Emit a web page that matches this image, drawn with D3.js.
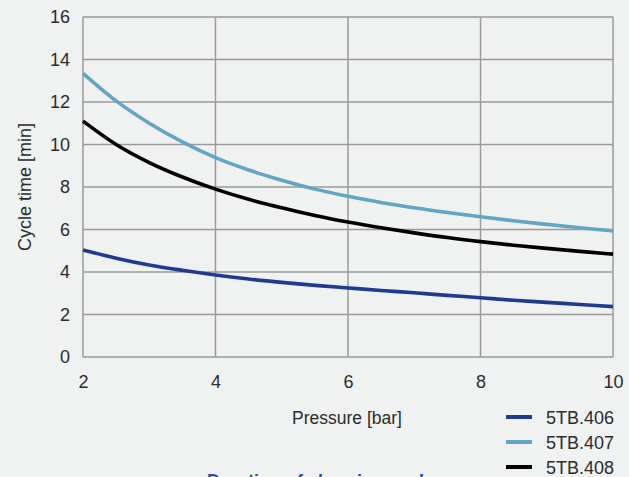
<!DOCTYPE html>
<html><head><meta charset="utf-8">
<script src="https://cdn.jsdelivr.net/npm/d3@7"></script>
<style>
html,body{margin:0;padding:0;background:#f0f2f1;}
svg{display:block;font-family:"Liberation Sans",Arial,sans-serif;}
</style></head>
<body>
<svg id="c" width="629" height="477"></svg>
<script>
const pressure = [2,2.5,3,3.5,4,4.5,5,5.5,6,6.5,7,7.5,8,8.5,9,9.5,10];
const s406 = [5.04,4.65,4.33,4.08,3.86,3.67,3.51,3.37,3.25,3.13,3.02,2.9,2.79,2.67,2.57,2.47,2.37];
const s407 = [13.35,12.05,11.0,10.12,9.38,8.8,8.32,7.9,7.56,7.27,7.02,6.8,6.6,6.41,6.24,6.08,5.93];
const s408 = [11.1,10.0,9.15,8.47,7.9,7.42,7.02,6.66,6.35,6.08,5.84,5.62,5.43,5.26,5.11,4.97,4.84];
const seriesNames = ["5TB.406","5TB.407","5TB.408"];
const seriesColors = ["#1f3a8f","#62a5c4","#000000"];
const xTicks = [2,4,6,8,10];
const yTicks = [0,2,4,6,8,10,12,14,16];
const xTitle = "Pressure [bar]";
const yTitle = "Cycle time [min]";
const caption = "Duration of charging cycle";

const FONT = "Liberation Sans, Arial, sans-serif";
const TXT = "#2b2b2b";
const svg = d3.select("#c");
const x = d3.scaleLinear().domain([2,10]).range([83,613]);
const y = d3.scaleLinear().domain([0,16]).range([357,17]);

// grid
const g = svg.append("g");
g.selectAll("line.h").data(yTicks).join("line")
 .attr("x1",x(2)).attr("x2",x(10)).attr("y1",d=>y(d)).attr("y2",d=>y(d))
 .attr("stroke","#9a9a9a").attr("stroke-width",1.5);
g.selectAll("line.v").data(xTicks).join("line")
 .attr("x1",d=>x(d)).attr("x2",d=>x(d)).attr("y1",y(0)).attr("y2",y(16))
 .attr("stroke","#9a9a9a").attr("stroke-width",1.5);

// axes labels
const yAxis = d3.axisLeft(y).tickValues(yTicks).tickSize(0).tickPadding(13);
const ya = svg.append("g").attr("transform",`translate(${x(2)},0)`).call(yAxis);
ya.select(".domain").remove();
ya.selectAll("text").attr("font-size",18).attr("fill",TXT).attr("font-family",FONT);
const xAxis = d3.axisBottom(x).tickValues(xTicks).tickSize(0).tickPadding(18);
const xa = svg.append("g").attr("transform",`translate(0,${y(0)})`).call(xAxis);
xa.select(".domain").remove();
xa.selectAll("text").attr("font-size",18).attr("fill",TXT).attr("font-family",FONT);

svg.append("text").attr("transform","translate(31,187) rotate(-90)").attr("text-anchor","middle")
 .attr("font-size",18).attr("fill",TXT).text(yTitle);
svg.append("text").attr("x",347).attr("y",424).attr("text-anchor","middle")
 .attr("font-size",17.5).attr("fill",TXT).text(xTitle);

// lines
const all = [s406,s407,s408];
const line = d3.line().x((d,i)=>x(pressure[i])).y(d=>y(d)).curve(d3.curveMonotoneX);
all.forEach((s,i)=>{
  svg.append("path").datum(s).attr("d",line).attr("fill","none")
   .attr("stroke",seriesColors[i]).attr("stroke-width",3.6);
});

// legend
seriesNames.forEach((n,i)=>{
  const ly = 417 + i*25;
  svg.append("line").attr("x1",506).attr("x2",532).attr("y1",ly).attr("y2",ly)
   .attr("stroke",seriesColors[i]).attr("stroke-width",4);
  svg.append("text").attr("x",546).attr("y",ly+7).attr("font-size",18).attr("fill",TXT).text(n);
});

svg.append("text").attr("x",207).attr("y",487).attr("font-size",18).attr("font-weight","bold")
 .attr("fill","#2a4aa8").text(caption);
</script>
</body></html>
